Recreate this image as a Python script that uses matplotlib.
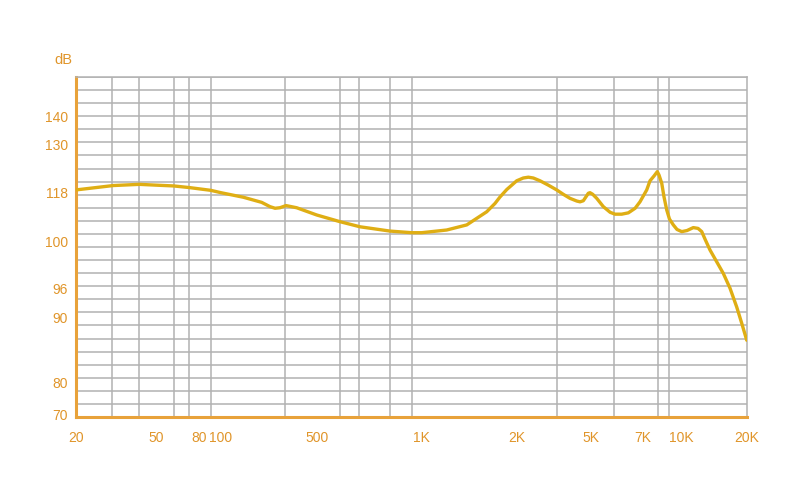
import numpy as np
import matplotlib.pyplot as plt

# -----------------------------------------------
# data
# -----------------------------------------------
freq = [20, 30.3, 40, 50, 60, 70, 90, 100,
        147, 201, 232, 253, 275, 305, 362,
        500, 600, 704, 800, 900, 1000,
        1200, 1389, 1607, 1707, 1770, 1860,
        2000, 2138, 2250, 2366, 2532, 2756, 3000,
        3309, 3657, 4041, 4246, 4457, 4640, 4803, 4926,
        5068, 5234, 5520, 5830, 6041, 6258, 6480, 6715, 6889,
        7239, 7459, 7735, 7970, 8106, 8332, 8529, 8765, 9010, 9311, 9608,
        10000, 10580, 11314, 11900, 12380, 12820, 13520,
        15580, 16740, 17970, 18960, 20000]
spl = [118.7, 119.8, 120.1, 119.9, 119.7, 119.3, 118.6, 118.0,
       116.3, 114.4, 112.8, 112.2, 112.4, 113.2, 112.4,
       109.7, 107.2, 105.3, 103.7, 103.1, 103.1,
       104.1, 106.0, 110.9, 114.0, 116.4, 118.8,
       121.0, 121.7, 121.9, 121.7, 121.0, 119.9, 118.7,
       117.4, 115.9, 114.9, 114.6, 115.0, 116.5, 117.8, 118.0,
       117.4, 115.9, 112.8, 110.7, 110.0, 110.0, 110.5, 112.2, 114.6,
       118.7, 121.0, 122.2, 123.3, 122.45, 120.4, 116.4, 111.6, 108.2, 106.0, 104.3,
       103.5, 103.9, 105.0, 104.7, 103.5, 100.7, 99.25,
       97.3, 96.06, 92.2, 89.1, 86.5]

x_ticks = [20, 50, 80, 100, 500, 1000, 2000, 5000, 7000, 10000, 20000]
x_labels = ["20", "50", "80", "100", "500", "1K", "2K", "5K", "7K", "10K", "20K"]
x_minor = [30, 40, 60, 70, 90, 300, 600, 700, 800, 900, 3000, 6000, 8000, 9000]
y_ticks = [70, 80, 90, 96, 100, 118, 130, 140]

# -----------------------------------------------
# the picture uses an uneven axis on both sides -> piecewise scales
# -----------------------------------------------
X_SCALE_F = [20, 30, 40, 50, 60, 70, 80, 90, 100, 300, 500, 600, 700, 800, 900,
             1000, 2000, 3000, 5000, 6000, 7000, 8000, 9000, 10000, 20000]
X_SCALE_POS = [0, 0.0541, 0.0944, 0.1193, 0.1457, 0.1685, 0.1838, 0.2008, 0.2162,
               0.3116, 0.3589, 0.3936, 0.4215, 0.4682, 0.5005, 0.5154, 0.6571,
               0.7167, 0.7679, 0.8017, 0.8454, 0.8673, 0.8846, 0.9031, 1.0]
Y_SCALE_DB = [69.15, 70, 80, 90, 96, 100, 118, 130, 140, 154]
Y_SCALE_POS = [0, 0.0079, 0.1009, 0.2932, 0.3765, 0.5176, 0.6597, 0.8, 0.8832, 1.0]

xlog = np.log10(X_SCALE_F)


def fx(f):
    return np.interp(np.log10(np.clip(f, 1e-9, None)), xlog, X_SCALE_POS)


def fx_inv(p):
    return 10 ** np.interp(p, X_SCALE_POS, xlog)


def fy(v):
    return np.interp(v, Y_SCALE_DB, Y_SCALE_POS)


def fy_inv(p):
    return np.interp(p, Y_SCALE_POS, Y_SCALE_DB)


ORANGE = "#e8a23a"
TEXT = "#e0952a"
CURVE = "#dfae14"
GRID = "#b2b2b2"

plt.rcParams["font.family"] = ["Liberation Sans", "DejaVu Sans"]

fig = plt.figure(figsize=(8, 5), dpi=100)
ax = fig.add_axes([0.095, 0.166, 0.8384, 0.68])

ax.set_xscale("function", functions=(fx, fx_inv))
ax.set_yscale("function", functions=(fy, fy_inv))
ax.set_xlim(20, 20000)
ax.set_ylim(69.15, 154)

ax.plot(freq, spl, color=CURVE, lw=2.4, solid_joinstyle="round",
        solid_capstyle="round", zorder=3)

ax.set_xticks(x_ticks)
ax.set_xticklabels(x_labels)
ax.set_xticks(x_ticks + x_minor, minor=True)
ax.set_yticks(y_ticks)
ax.set_yticklabels([str(v) for v in y_ticks])
ax.set_yticks(fy_inv(np.linspace(0, 1, 27)), minor=True)
ax.yaxis.set_minor_formatter(plt.NullFormatter())
ax.xaxis.set_minor_formatter(plt.NullFormatter())

ax.grid(which="minor", color=GRID, lw=1.1)
ax.grid(which="major", visible=False)
ax.set_axisbelow(True)

ax.tick_params(which="both", length=0)
ax.tick_params(axis="x", pad=10, labelsize=10, labelcolor=TEXT)
ax.tick_params(axis="y", pad=6, labelsize=10, labelcolor=TEXT)

for s in ["left", "bottom"]:
    ax.spines[s].set_color(ORANGE)
    ax.spines[s].set_linewidth(2.2)
for s in ["top", "right"]:
    ax.spines[s].set_color(GRID)
    ax.spines[s].set_linewidth(1.1)

fig.text(0.079, 0.88, "dB", ha="center", va="center", color=TEXT, fontsize=10.5)

fig.savefig("out.png", dpi=100, facecolor="white")
